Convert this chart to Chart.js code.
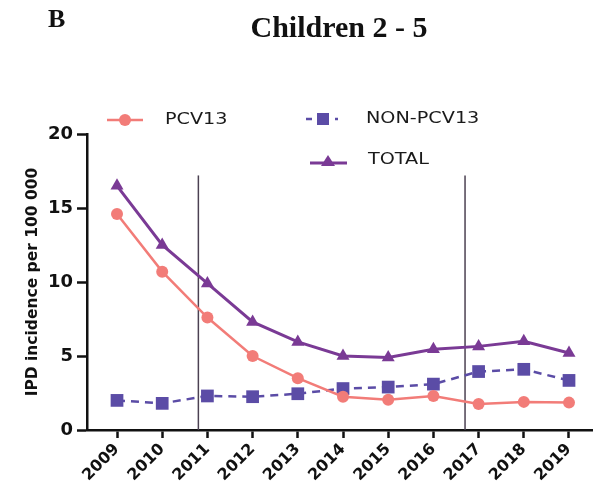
<!DOCTYPE html>
<html>
<head>
<meta charset="utf-8">
<script src="https://cdn.jsdelivr.net/npm/chart.js@4/dist/chart.umd.min.js"></script>
<style>
  html, body { margin: 0; padding: 0; background: #fff; }
  canvas { display: block; }
</style>
</head>
<body>
<canvas id="c" width="593" height="488"></canvas>
<script>
// Invasive pneumococcal disease, children aged 2-5, incidence per 100 000
const years = [2009, 2010, 2011, 2012, 2013, 2014, 2015, 2016, 2017, 2018, 2019];
const yearLabels = ['2009', '2010', '2011', '2012', '2013', '2014', '2015', '2016', '2017', '2018', '2019'];
const pcv13 = [14.6, 10.7, 7.6, 5.0, 3.5, 2.25, 2.05, 2.3, 1.75, 1.9, 1.85];
const nonPcv13 = [2.0, 1.8, 2.3, 2.25, 2.45, 2.8, 2.9, 3.1, 3.95, 4.1, 3.35];
const total = [16.5, 12.5, 9.9, 7.3, 5.95, 5.0, 4.9, 5.45, 5.65, 6.0, 5.2];
const yTicks = [0, 5, 10, 15, 20];
// vaccine programme change markers (x position in years, height in incidence units)
const markerYears = [2010.8, 2016.7];
const markerTop = 17.2;

const COL_PCV = '#f27c78';
const COL_NON = '#5b4ca6';
const COL_TOT = '#7a3a95';
const COL_MARK = '#4b4152';

const pts = (vals) => vals.map((v, i) => ({ x: years[i], y: v }));

const markerSets = markerYears.map(yr => ({
  label: 'marker',
  data: [{ x: yr, y: 0 }, { x: yr, y: markerTop }],
  borderColor: COL_MARK,
  borderWidth: 1.5,
  pointRadius: 0,
  fill: false
}));

// Title, panel letter and two-column legend
const decorations = {
  id: 'decorations',
  beforeDraw(chart) {
    const ctx = chart.ctx;
    ctx.save();
    ctx.fillStyle = '#fff';
    ctx.fillRect(0, 0, chart.width, chart.height);
    ctx.restore();
  },
  afterDraw(chart) {
    const ctx = chart.ctx;
    ctx.save();
    ctx.fillStyle = '#111';
    ctx.textBaseline = 'alphabetic';
    ctx.font = 'bold 26px "Liberation Serif", "Times New Roman", serif';
    ctx.textAlign = 'left';
    ctx.fillText('B', 48, 27);
    ctx.font = 'bold 30px "Liberation Serif", "Times New Roman", serif';
    ctx.textAlign = 'center';
    ctx.fillText('Children 2 - 5', 339, 37);

    const ds = chart.data.datasets;
    const legendText = (txt, x, y) => {
      ctx.save();
      ctx.translate(x, y);
      ctx.scale(1.28, 1);
      ctx.font = '15px "DejaVu Sans", Arial, sans-serif';
      ctx.fillStyle = '#1a1a1a';
      ctx.textAlign = 'left';
      ctx.textBaseline = 'middle';
      ctx.fillText(txt, 0, 0);
      ctx.restore();
    };

    // PCV13
    ctx.strokeStyle = ds[0].borderColor;
    ctx.lineWidth = 2.5;
    ctx.beginPath(); ctx.moveTo(107, 120); ctx.lineTo(143, 120); ctx.stroke();
    ctx.fillStyle = ds[0].backgroundColor;
    ctx.beginPath(); ctx.arc(125, 120, 6, 0, Math.PI * 2); ctx.fill();
    legendText(ds[0].label, 165, 120);

    // NON-PCV13
    ctx.strokeStyle = ds[1].borderColor;
    ctx.fillStyle = ds[1].backgroundColor;
    ctx.lineWidth = 2.5;
    ctx.beginPath(); ctx.moveTo(306, 119); ctx.lineTo(312, 119); ctx.stroke();
    ctx.fillRect(317, 113, 12, 12);
    ctx.beginPath(); ctx.moveTo(335, 119); ctx.lineTo(338, 119); ctx.stroke();
    legendText(ds[1].label, 366, 119);

    // TOTAL
    ctx.strokeStyle = ds[2].borderColor;
    ctx.fillStyle = ds[2].backgroundColor;
    ctx.lineWidth = 3;
    ctx.beginPath(); ctx.moveTo(310, 163); ctx.lineTo(347, 163); ctx.stroke();
    ctx.beginPath();
    ctx.moveTo(328, 155); ctx.lineTo(335, 166); ctx.lineTo(321, 166); ctx.closePath(); ctx.fill();
    legendText(ds[2].label, 368, 160);
    ctx.restore();
  }
};

new Chart(document.getElementById('c'), {
  type: 'line',
  data: {
    datasets: [
      {
        label: 'PCV13',
        data: pts(pcv13),
        borderColor: COL_PCV,
        backgroundColor: COL_PCV,
        borderWidth: 2.5,
        pointStyle: 'circle',
        pointRadius: 6,
        pointBorderWidth: 0,
        tension: 0
      },
      {
        label: 'NON-PCV13',
        data: pts(nonPcv13),
        borderColor: COL_NON,
        backgroundColor: COL_NON,
        borderWidth: 2.5,
        borderDash: [8, 6],
        pointStyle: 'rect',
        pointRadius: 9,
        pointBorderWidth: 0,
        tension: 0
      },
      {
        label: 'TOTAL',
        data: pts(total),
        borderColor: COL_TOT,
        backgroundColor: COL_TOT,
        borderWidth: 3,
        pointStyle: 'triangle',
        pointRadius: 7.5,
        pointBorderWidth: 0,
        tension: 0
      },
      ...markerSets
    ]
  },
  options: {
    responsive: false,
    animation: false,
    devicePixelRatio: 1,
    layout: { autoPadding: false, padding: { top: 134, left: 0, right: 0, bottom: 0 } },
    plugins: {
      legend: { display: false },
      title: { display: false },
      tooltip: { enabled: false }
    },
    scales: {
      x: {
        type: 'linear',
        min: 2008.336,
        max: 2019.531,
        afterBuildTicks(scale) {
          scale.ticks = years.map(v => ({ value: v }));
        },
        afterFit(scale) {
          scale.height = 58;
          scale.paddingLeft = 0;
          scale.paddingRight = 0;
        },
        ticks: {
          autoSkip: false,
          minRotation: 45,
          maxRotation: 45,
          padding: 2,
          color: '#111',
          font: { family: '"DejaVu Sans", Arial, sans-serif', size: 16, weight: 'bold' },
          callback(value) {
            const i = years.indexOf(value);
            return i >= 0 ? yearLabels[i] : '';
          }
        },
        grid: {
          drawOnChartArea: false,
          drawTicks: true,
          tickLength: 8,
          tickWidth: 2.5,
          tickColor: '#111'
        },
        border: { display: true, color: '#111', width: 2.5 }
      },
      y: {
        min: 0,
        max: 20,
        afterBuildTicks(scale) {
          scale.ticks = yTicks.map(v => ({ value: v }));
        },
        afterFit(scale) { scale.width = 87; },
        ticks: {
          padding: 4,
          color: '#111',
          font: { family: '"DejaVu Sans", Arial, sans-serif', size: 18, weight: 'bold' }
        },
        grid: {
          drawOnChartArea: false,
          drawTicks: true,
          tickLength: 10,
          tickWidth: 2.5,
          tickColor: '#111'
        },
        border: { display: true, color: '#111', width: 2.5 },
        title: {
          display: true,
          text: 'IPD incidence per 100 000',
          color: '#111',
          padding: { top: 24, bottom: 0 },
          font: { family: '"DejaVu Sans", Arial, sans-serif', size: 15.5, weight: 'bold', lineHeight: 1.2 }
        }
      }
    }
  },
  plugins: [decorations]
});
</script>
</body>
</html>
